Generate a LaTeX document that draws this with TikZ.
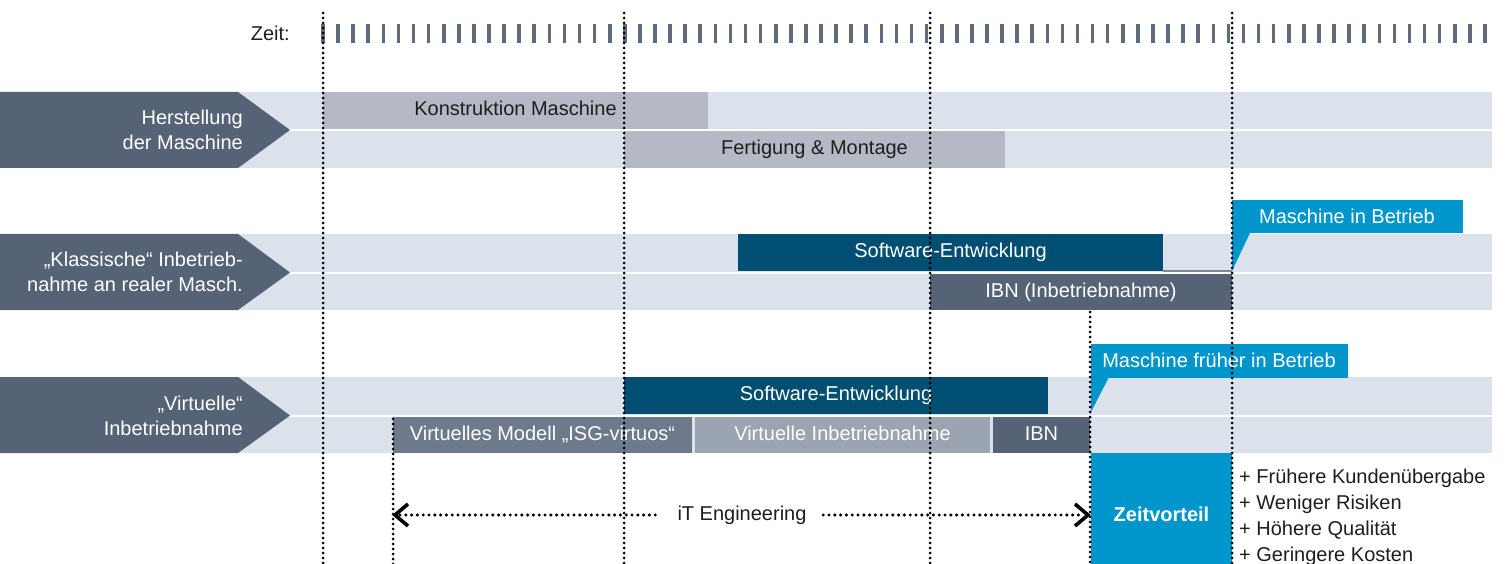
\documentclass[tikz,border=0pt]{standalone}
\usepackage{fontspec}
\setmainfont{Liberation Sans}
\definecolor{bandbg}{HTML}{DCE2EC}
\definecolor{slate}{HTML}{566275}
\definecolor{lightbar}{HTML}{B4B9C5}
\definecolor{teal}{HTML}{004F72}
\definecolor{callblue}{HTML}{0096CC}
\definecolor{vmgray}{HTML}{6E7A8C}
\definecolor{vigray}{HTML}{9BA4B1}
\definecolor{tickgray}{HTML}{5F6B7B}
\definecolor{inkdark}{HTML}{1E1E1E}
\newcommand\txtsize{\fontsize{20}{24.5}\selectfont}
\begin{document}
\begin{tikzpicture}[x=1pt,y=-1pt,
  band/.style={fill=bandbg},
  lead/.style={fill=slate},
  bar/.style={anchor=north west, inner sep=0pt, outer sep=0pt,
    font=\txtsize, text height=14.3pt, text depth=4.2pt, text=white},
  lbl/.style={anchor=east, align=right, font=\txtsize, text=white, inner sep=0pt},
  bullet/.style={anchor=west, font=\txtsize, text=inkdark, inner sep=0pt,
    text height=14.3pt, text depth=4.2pt},
  timeline/.style={draw=black, line width=3pt, line cap=round,
    dash pattern=on 0pt off 5pt},
  itline/.style={draw=black, line width=3.4pt, line cap=round,
    dash pattern=on 0pt off 5.8pt},
  chev/.style={draw=black, line width=3.6pt, miter limit=10},
  tickmark/.style={draw=tickgray, line width=3.6pt},
  callout/.style={fill=callblue}]
\useasboundingbox (0,0) rectangle (1507,564);

% time scale
\node[anchor=east, font=\txtsize, text=inkdark, inner sep=0pt] (zeit) at (290,33) {Zeit:};
\foreach \k in {0,...,77}
  \draw[tickmark] ({323+15.09*\k},24) -- ({323+15.09*\k},43);

% background bands (two rows per group)
\fill[band] (238,92) rectangle (1492,129);
\fill[band] (238,131) rectangle (1492,168);
\fill[band] (238,234) rectangle (1492,271.5);
\fill[band] (238,274) rectangle (1492,310);
\fill[band] (238,377) rectangle (1492,414.5);
\fill[band] (238,417) rectangle (1492,453);

% lead arrows
\fill[lead] (0,92) -- (238,92) -- (290,130) -- (238,168) -- (0,168) -- cycle;
\fill[lead] (0,234) -- (238,234) -- (290,272.5) -- (238,310) -- (0,310) -- cycle;
\fill[lead] (0,377) -- (238,377) -- (290,415.5) -- (238,453) -- (0,453) -- cycle;
\node[lbl] (g1) at (243,130) {Herstellung\\der Maschine};
\node[lbl] (g2) at (243,272) {„Klassische“ Inbetrieb-\\nahme an realer Masch.};
\node[lbl] (g3) at (243,416) {„Virtuelle“\\Inbetriebnahme};

% process bars
\node[bar, fill=lightbar, text=inkdark, minimum width=385pt, minimum height=37pt] (konstr) at (323,92) {Konstruktion Maschine};
\node[bar, fill=lightbar, text=inkdark, minimum width=381pt, minimum height=37pt] (fertig) at (624,131) {Fertigung \& Montage};
\node[bar, fill=teal, minimum width=425pt, minimum height=37pt] (swa) at (738,234) {Software-Entwicklung};
\draw[draw=tickgray!80, line width=1.2pt] (swa.south east) -- (1232,271);
\node[bar, fill=slate, minimum width=302pt, minimum height=36pt] (ibna) at (930,274) {IBN (Inbetriebnahme)};
\node[bar, fill=teal, minimum width=424pt, minimum height=37pt] (swb) at (624,377) {Software-Entwicklung};
\node[bar, fill=vmgray, minimum width=299pt, minimum height=36pt] (vm) at (393,417) {Virtuelles Modell „ISG-virtuos“};
\node[bar, fill=vigray, minimum width=295pt, minimum height=36pt] (vi) at (695,417) {Virtuelle Inbetriebnahme};
\node[bar, fill=slate, minimum width=97pt, minimum height=36pt] (ibnb) at (993,417) {IBN};
\node[bar, fill=callblue, minimum width=141pt, minimum height=126pt, font=\txtsize\bfseries] (zv) at (1091,453) {Zeitvorteil};

% callouts
\fill[callout] (1232,200) rectangle (1463,233.5);
\fill[callout] (1232,233) -- (1250,233) -- (1232,271) -- cycle;
\node[font=\txtsize, text=white, inner sep=0pt] (ca) at (1347,216.5) {Maschine in Betrieb};
\fill[callout] (1091,344) rectangle (1348,377.5);
\fill[callout] (1091,377) -- (1109,377) -- (1091,412) -- cycle;
\node[font=\txtsize, text=white, inner sep=0pt] (cb) at (1219,360.5) {Maschine früher in Betrieb};

% benefits
\node[bullet] (b1) at (1239,478) {+ Frühere Kundenübergabe};
\node[bullet] (b2) at (1239,504) {+ Weniger Risiken};
\node[bullet] (b3) at (1239,530) {+ Höhere Qualität};
\node[bullet] (b4) at (1239,556) {+ Geringere Kosten};

% milestone lines
\foreach \xx in {323,624,930,1232}
  \draw[timeline] (\xx,13) -- (\xx,566);
\draw[timeline] (393,419) -- (393,566);
\draw[timeline] (1090,312) -- (1090,566);

% engineering span
\coordinate (itL) at (395,515);
\coordinate (itR) at (1088,515);
\node[fill=white, font=\txtsize, text=inkdark, inner sep=0pt, text height=14.3pt, text depth=4.2pt,
  minimum width=162pt, minimum height=18pt] (itlab) at (742,515) {iT Engineering};
\draw[itline] ([xshift=5pt]itL) -- (itlab.west);
\draw[itline] (itlab.east) -- ([xshift=-5pt]itR);
\draw[chev] ([shift={(13,-11)}]itL) -- (itL) -- ([shift={(13,11)}]itL);
\draw[chev] ([shift={(-13,-11)}]itR) -- (itR) -- ([shift={(-13,11)}]itR);
\end{tikzpicture}
\end{document}
